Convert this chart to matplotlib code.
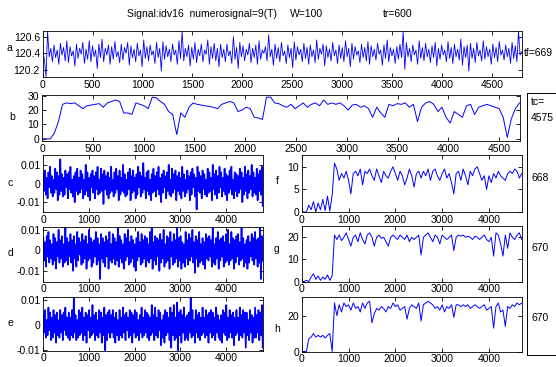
import numpy as np
import matplotlib
matplotlib.use("Agg")
import matplotlib.pyplot as plt
from matplotlib.lines import Line2D

plt.rcParams['font.family'] = ['Liberation Sans', 'DejaVu Sans']
plt.rcParams['font.size'] = 7
plt.rcParams['axes.unicode_minus'] = False

# ---- data ----
a_len = 4800
a_vals = [120.42,120.33,120.12,120.66,120.36,120.46,120.30,120.50,120.35,120.44,
          120.27,120.52,120.38,120.47,120.31,120.55,120.29,120.48,120.37,120.43,
          120.25,120.51,120.34,120.46,120.39,120.53,120.28,120.45,120.33,120.55,
          120.30,120.49,120.36,120.44,120.22,120.51,120.35,120.57,120.30,120.46,
          120.38,120.50,120.27,120.48,120.33,120.54,120.36,120.42,120.29,120.51,
          120.32,120.47,120.40,120.53,120.26,120.49,120.35,120.45,120.30,120.52,
          120.37,120.44,120.24,120.56,120.34,120.48,120.31,120.50,120.38,120.43,
          120.28,120.53,120.35,120.46,120.19,120.54,120.33,120.49,120.36,120.45,
          120.30,120.51,120.38,120.44,120.27,120.55,120.34,120.66,120.31,120.46,
          120.36,120.50,120.25,120.47,120.33,120.53,120.29,120.45,120.37,120.51,
          120.30,120.44,120.39,120.56,120.27,120.48,120.34,120.52,120.31,120.46,
          120.24,120.51,120.35,120.45,120.30,120.51,120.37,120.43,120.28,120.60,
          120.33,120.47,120.22,120.53,120.36,120.49,120.31,120.45,120.38,120.52,
          120.29,120.46,120.35,120.50,120.27,120.55,120.33,120.44,120.40,120.48,
          120.31,120.62,120.36,120.45,120.26,120.51,120.34,120.47,120.30,120.53,
          120.37,120.43,120.28,120.50,120.35,120.46,120.23,120.54,120.32,120.48,
          120.38,120.45,120.30,120.52,120.34,120.47,120.27,120.50,120.36,120.44,
          120.29,120.56,120.33,120.46,120.39,120.51,120.25,120.49,120.35,120.45,
          120.31,120.53,120.37,120.44,120.28,120.50,120.34,120.47,120.30,120.55,
          120.36,120.46,120.24,120.52,120.33,120.48,120.38,120.43,120.29,120.51,
          120.35,120.47,120.31,120.54,120.27,120.49,120.36,120.45,120.32,120.52,
          120.39,120.44,120.26,120.50,120.34,120.56,120.30,120.47,120.37,120.45,
          120.28,120.48,120.33,120.51,120.35,120.66,120.21,120.53,120.36,120.46,
          120.30,120.50,120.38,120.44,120.27,120.55,120.34,120.47,120.31,120.52,
          120.36,120.45,120.29,120.49,120.35,120.53,120.25,120.46,120.33,120.50,
          120.38,120.44,120.30,120.54,120.34,120.47,120.28,120.51,120.36,120.45,
          120.32,120.57,120.26,120.48,120.35,120.50,120.19,120.52,120.34,120.46,
          120.29,120.53,120.37,120.44,120.31,120.55,120.33,120.48,120.36,120.45,
          120.27,120.51,120.35,120.47,120.30,120.54,120.38,120.44,120.32,120.50,
          120.36,120.46,120.28,120.53,120.34,120.49,120.30,120.66,120.38,120.42]

b_len = 4700
b_vals = [0, 0, 0, 4, 12, 24, 25, 24.5, 25, 23, 21, 23, 23.5, 24, 24.5, 22, 25, 26, 27, 26,
          18, 18, 17, 25, 24, 23, 21, 29, 28.5, 26, 24, 19, 17, 3, 18, 15, 22, 25, 24, 23.5,
          23, 22.5, 22, 21, 24, 25, 26, 25, 19, 20, 22, 21, 15, 14.5, 13.5, 29, 29, 25, 24.5, 23,
          22, 24, 21, 23, 25, 22, 24, 25, 23, 27, 24, 25, 24, 25, 23, 20, 23.5, 24, 22, 23,
          21, 15, 22, 18, 15, 24, 23, 24.5, 24, 25, 22, 24, 12, 22, 25, 26, 24, 19, 22, 15,
          11, 19, 17, 15, 23, 24, 17, 22, 23, 24, 23, 22, 21, 15, 1, 14, 21, 25]

# noise channels, in units of 1e-3
c_len = 4800
c_vals = [5,-4,7,-6,3,-8,6,-2,9,-5, 4,-7,2,-5,8,-3,6,-9,4,-6,
          13,-4,5,-7,3,-6,7,-2,5,-8, 6,-3,9,-5,2,-7,4,-10,6,-4,
          8,-6,3,-5,7,-3,5,-8,2,-6, 10,-4,6,-7,3,-9,5,-2,7,-5,
          4,-8,6,-3,9,-6,2,-5,8,-4, 5,-11,7,-3,4,-6,6,-8,3,-5,
          9,-4,2,-7,6,-5,8,-3,4,-9, 7,-6,3,-4,10,-5,5,-7,2,-6,
          6,-3,8,-9,4,-5,7,-4,3,-8, 5,-6,9,-2,6,-7,4,-5,11,-3,
          3,-8,6,-4,7,-6,2,-9,5,-5, 8,-4,4,-7,6,-3,9,-6,3,-10,
          5,-5,7,-2,4,-8,6,-4,10,-6, 2,-7,8,-5,5,-3,7,-9,4,-4,
          6,-6,3,-8,9,-4,5,-7,2,-5, 7,-3,4,-9,6,-6,8,-2,5,-7,
          3,-14,9,-4,6,-5,4,-8,7,-3, 5,-6,2,-7,8,-5,6,-4,3,-9,
          10,-3,5,-6,7,-8,4,-5,9,-2, 6,-7,3,-4,8,-6,5,-9,4,-5,
          7,-3,9,-6,2,-8,6,-4,5,-7, 4,-5,8,-3,6,-10,3,-6,9,-4,
          5,-8,7,-5,4,-3,10,-7,6,-5, 3,-6,8,-9,5,-4,7,-6,9,-12]
d_vals = [6,-5,4,-8,7,-3,9,-6,5,-4, 3,-7,8,-5,6,-9,4,-3,10,-6,
          5,-4,7,-8,3,-6,11,-5,6,-7, 4,-3,8,-6,5,-10,7,-4,3,-8,
          9,-5,6,-2,4,-7,8,-6,5,-4, 7,-9,3,-5,10,-4,6,-8,4,-6,
          5,-3,9,-7,6,-5,3,-14,8,-4, 6,-6,4,-8,7,-3,5,-9,9,-5,
          3,-6,8,-4,6,-7,4,-5,11,-8, 7,-4,5,-6,3,-9,8,-5,6,-3,
          10,-7,4,-6,7,-4,5,-8,3,-10, 6,-5,9,-3,4,-7,8,-6,5,-4,
          7,-8,6,-5,3,-6,9,-4,11,-9, 4,-5,7,-7,6,-3,5,-10,8,-6,
          5,-4,10,-8,3,-6,7,-5,6,-9, 9,-3,4,-7,8,-6,5,-4,11,-8,
          6,-5,7,-9,4,-6,3,-8,9,-4, 5,-7,8,-5,6,-3,10,-6,4,-11,
          7,-4,5,-8,9,-6,3,-5,6,-7, 4,-9,8,-4,6,-5,7,-3,5,-8,
          11,-6,3,-7,6,-4,9,-9,5,-5, 6,-3,7,-8,4,-6,8,-5,10,-7,
          3,-5,9,-4,6,-9,5,-6,7,-3, 8,-7,4,-5,11,-4,6,-8,3,-6,
          5,-9,7,-6,4,-3,8,-5,6,-7, 9,-4,5,-8,6,-6,11,-14,7,-5]
e_vals = [4,-3,6,-5,2,-4,7,-2,5,-6, 3,-5,6,-3,4,-7,5,-4,2,-5,
          6,-3,4,-6,5,-2,7,-4,3,-5, 5,-6,3,-4,6,-5,11,-3,4,-6,
          2,-5,6,-4,5,-3,7,-6,3,-4, 5,-7,4,-2,6,-5,3,-4,8,-3,
          4,-6,5,-4,2,-5,6,-3,5,-7, 3,-4,7,-10,4,-6,5,-3,6,-5,
          4,-3,6,-5,3,-7,5,-4,2,-6, 6,-4,3,-5,7,-3,4,-6,5,-2,
          3,-5,6,-4,5,-7,4,-3,6,-5, 5,-4,2,-6,4,-3,7,-5,3,-4,
          6,-3,5,-5,4,-6,3,-4,8,-3, 4,-6,7,-4,3,-5,6,-2,5,-8,
          2,-5,4,-7,6,-4,5,-3,3,-6, 7,-9,5,-4,8,-6,3,-5,9,-10,
          5,-4,6,-7,4,-3,7,-6,3,-5, 4,-6,5,-3,11,-5,6,-4,2,-7,
          6,-3,4,-5,5,-6,3,-4,7,-3, 3,-5,6,-4,4,-7,5,-3,6,-5,
          5,-4,3,-6,7,-3,4,-5,2,-6, 4,-7,6,-3,5,-4,8,-6,3,-5,
          6,-3,4,-5,5,-8,3,-4,6,-3, 3,-6,7,-4,4,-5,6,-3,5,-9,
          5,-4,2,-6,6,-3,4,-7,3,-5, 7,-5,4,-3,6,-6,5,-4,8,-9]

right_len = 4700
f_vals = [0, 0, 0, 1.5, 0.5, 2.3, 0, 2, 0.5, 2.8, 0.3, 3.5, 0.2, 3.8, 10.8, 9.5, 7, 8.5, 7.5, 9,
          7, 4, 8.5, 9, 8, 9.5, 6, 9, 8.5, 9.5, 8, 7, 9.5, 8, 6.5, 9, 8, 7.5, 9, 10,
          8.5, 7, 9, 8, 6, 7.5, 9.5, 8, 5.5, 8.5, 9, 7.5, 9, 8, 9.5, 7, 9, 9.5, 8, 7,
          8.5, 9.5, 7.5, 8.5, 6.5, 4, 8.5, 9, 7, 9.5, 8, 6, 9, 8, 9.5, 10, 8.5, 7, 8, 5,
          8, 6.5, 8.5, 7.5, 9, 8, 7.5, 7, 8.5, 9, 8.5, 9.5, 9, 7.5, 8.5]
g_vals = [0, 0, 0.5, 0, 2, 3.5, 1, 2.5, 0.5, 2, 1, 3, 0.5, 2.5, 21, 19, 21, 18.5, 20, 22,
          19, 16, 20, 21, 18, 22, 19, 17, 21, 22, 20, 16, 20, 21, 19.5, 20, 18, 16, 20, 21,
          20, 19, 21, 20, 19, 21, 18, 20, 19, 20, 21, 12, 20, 21, 22, 20, 18, 21, 20, 17,
          21, 20, 19, 20, 21, 14, 20, 21, 20.5, 21, 20, 20.5, 20, 19, 20.5, 20, 19, 20, 21, 19,
          18, 20, 11.5, 22, 21, 17, 11.5, 21, 15, 22, 20, 19, 21, 22, 19]
h_vals = [0, 0, 0, 7, 8, 10, 8, 9, 8, 9, 7.5, 9, 10, 0, 27, 20, 26, 22, 27, 25,
          26, 23, 27, 24, 25, 22, 27, 24, 27, 28, 16, 21, 24, 23, 25, 24, 22, 25, 24, 27,
          25, 26, 23, 24, 25, 18, 24, 26, 25, 24, 27, 17, 26, 27, 28, 27, 26, 24, 25, 23,
          26, 22, 25, 24, 26, 19, 26, 26, 25, 26, 25, 26, 24, 25, 26, 25, 24, 25, 26, 23,
          24, 25, 13, 25, 27, 22, 23, 14, 25, 24, 26, 25, 27, 26, 27]

side_texts = ["tc=\n4575", "668", "670", "670"]

# ---- figure ----
W, H = 556, 367
fig = plt.figure(figsize=(W / 100, H / 100), dpi=100)


def box(x0, y0, x1, y1):
    return [x0 / W, 1 - y1 / H, (x1 - x0) / W, (y1 - y0) / H]


def style(ax, xlim, ylim, xticks, yticks, ylabels=None):
    ax.set_xlim(*xlim)
    ax.set_ylim(*ylim)
    ax.set_xticks(xticks)
    ax.set_yticks(yticks)
    if ylabels is not None:
        ax.set_yticklabels(ylabels)
    ax.tick_params(direction='in', top=True, right=True, length=3,
                   width=0.6, pad=2, labelsize=7.5)
    for s in ax.spines.values():
        s.set_linewidth(0.6)


def xs(n, length):
    return np.linspace(1, length, n)


blue = (0, 0, 1)

ax_a = fig.add_axes(box(42.7, 30.7, 521.7, 77.3))
ax_a.plot(xs(len(a_vals), a_len), a_vals, color=blue, lw=0.6)
style(ax_a, (0, a_len), (120.115, 120.67), range(0, 5000, 500), [120.2, 120.4, 120.6],
      ['120.2', '120.4', '120.6'])

ax_b = fig.add_axes(box(42, 95, 519.5, 141))
ax_b.plot(xs(len(b_vals), b_len), b_vals, color=blue, lw=0.7)
style(ax_b, (0, b_len), (-1.5, 30.5), range(0, 5000, 500), [0, 10, 20, 30])

noise_rows = [(c_vals, 155, 212, (-15.3, 15.3)),
              (d_vals, 227, 281.5, (-15.2, 11.4)),
              (e_vals, 296.7, 350.5, (-10.1, 11.3))]
for vals, y0, y1, lim in noise_rows:
    ax = fig.add_axes(box(43.3, y0, 262.7, y1))
    ax.plot(xs(len(vals), c_len), np.array(vals) * 1e-3, color=blue, lw=1.2)
    style(ax, (0, c_len), (lim[0] * 1e-3, lim[1] * 1e-3), range(0, 5000, 1000),
          [-0.01, 0, 0.01], ['-0.01', '0', '0.01'])

step_rows = [(f_vals, 155, 212, (0, 12.6), [0, 5, 10]),
             (g_vals, 226, 281.5, (0, 25.1), [0, 10, 20]),
             (h_vals, 296.7, 351.5, (0, 30.5), [0, 20])]
for vals, y0, y1, lim, yt in step_rows:
    ax = fig.add_axes(box(301.7, y0, 521.7, y1))
    ax.plot(xs(len(vals), right_len), vals, color=blue, lw=0.7)
    style(ax, (0, right_len), lim, range(0, 5000, 1000), yt)

# panel letters
for lab, x, y in [("a", 9, 48), ("b", 12, 117), ("c", 10, 183), ("d", 10, 253),
                  ("e", 10, 323), ("f", 277, 181), ("g", 277, 249), ("h", 277, 329)]:
    fig.text(x / W, 1 - y / H, lab, ha='center', va='center', fontsize=7.5)

# title line
fig.text(127 / W, 1 - 14 / H, "Signal:idv16  numerosignal=9(T)", ha='left', va='center', fontsize=7.5)
fig.text(290 / W, 1 - 14 / H, "W=100", ha='left', va='center', fontsize=7.5)
fig.text(383 / W, 1 - 14 / H, "tr=600", ha='left', va='center', fontsize=7.5)

fig.text(524 / W, 1 - 53 / H, "tf=669", ha='left', va='center', fontsize=7.5)

# right-hand bracket box with results
fig.add_artist(Line2D([527 / W, 527 / W], [1 - 93 / H, 1 - 355 / H], color='k', lw=0.7))
fig.add_artist(Line2D([527 / W, 1], [1 - 93 / H, 1 - 93 / H], color='k', lw=0.7))
fig.add_artist(Line2D([527 / W, 1], [1 - 355 / H, 1 - 355 / H], color='k', lw=0.7))
for txt, y in zip(side_texts, [110, 178, 248, 318]):
    fig.text(531 / W, 1 - y / H, txt, ha='left', va='center', fontsize=7.5, linespacing=1.7)

fig.savefig("out.png", dpi=100)
